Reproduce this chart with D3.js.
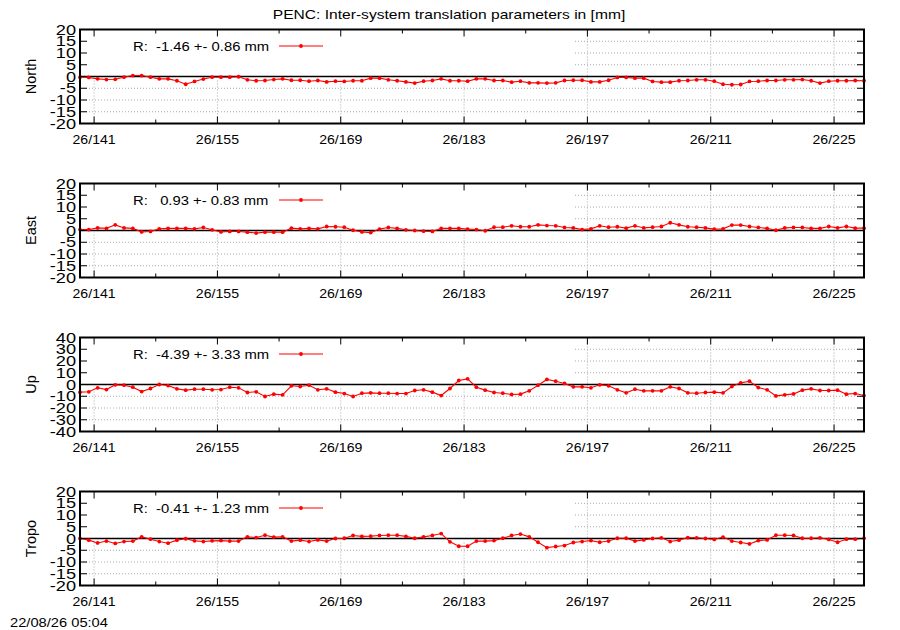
<!DOCTYPE html>
<html>
<head>
<meta charset="utf-8">
<script src="https://cdn.jsdelivr.net/npm/d3@7"></script>
<style>
  body { margin: 0; background: #fff; }
  svg { display: block; font-family: "Liberation Sans", Arial, sans-serif; }
  text { white-space: pre; fill: #000; }
</style>
</head>
<body>
<svg id="chart" width="900" height="630"></svg>
<script>
// day of year (2026), one solution per day
const days = d3.range(139, 229);
const dayOffset = 0.4;

const northValues = [
  -0.3, -0.4, -1.0, -1.3, -1.2, -0.3, 0.4, 0.4, -0.3, -1.0,
  -1.0, -1.8, -3.3, -2.1, -1.1, -0.3, -0.3, -0.3, -0.1, -1.4,
  -1.8, -1.7, -1.3, -1.0, -1.6, -1.6, -2.0, -1.7, -2.3, -2.0,
  -2.1, -1.8, -1.8, -0.7, -0.7, -1.4, -1.8, -2.3, -2.8, -2.0,
  -1.7, -1.0, -1.8, -1.8, -2.0, -1.0, -1.0, -1.7, -1.7, -2.4,
  -2.0, -2.7, -2.7, -2.8, -2.7, -1.7, -1.6, -1.6, -2.3, -2.3,
  -1.6, -0.4, -0.4, -0.7, -0.7, -2.1, -2.4, -2.4, -1.8, -1.7,
  -1.4, -1.4, -2.0, -3.3, -3.5, -3.4, -2.1, -2.0, -1.7, -1.7,
  -1.4, -1.4, -1.3, -1.8, -2.8, -2.0, -1.8, -1.8, -1.7, -1.8,
];

const eastValues = [
  0.4, 0.4, 1.1, 0.9, 2.4, 1.1, 0.9, -0.6, -0.4, 0.7,
  0.9, 0.9, 0.9, 0.7, 1.3, 0.3, -0.6, -0.4, -0.4, -0.7,
  -1.1, -0.7, -0.7, -0.7, 1.0, 0.7, 0.9, 0.7, 1.7, 1.6,
  1.4, 0.1, -0.6, -0.9, 0.6, 1.3, 0.9, 0.3, 0.0, -0.3,
  -0.4, 0.9, 0.9, 0.9, 0.6, 0.4, -0.1, 1.4, 1.4, 2.0,
  1.6, 1.6, 2.4, 2.1, 2.0, 1.3, 1.1, 0.4, 0.7, 2.0,
  1.4, 1.6, 1.0, 2.0, 1.1, 1.4, 1.7, 3.3, 2.4, 1.6,
  1.4, 1.1, 0.6, 0.7, 2.3, 2.3, 1.7, 1.3, 0.9, 0.1,
  1.1, 1.3, 1.3, 0.9, 0.9, 1.7, 1.1, 1.7, 1.0, 1.0,
];

const upValues = [
  -6.5, -6.2, -2.8, -4.3, -0.3, -0.6, -2.3, -6.0, -3.4, 0.0,
  -0.9, -3.7, -4.8, -4.0, -4.0, -4.5, -4.3, -2.3, -2.8, -6.8,
  -6.2, -10.2, -8.2, -8.8, -1.1, -1.7, -0.6, -4.5, -3.7, -6.5,
  -7.7, -10.2, -7.4, -7.1, -7.4, -7.4, -7.7, -7.7, -5.1, -4.5,
  -6.5, -9.4, -3.4, 3.4, 4.8, -2.3, -4.8, -6.8, -7.4, -8.5,
  -8.2, -5.4, -0.6, 4.3, 2.8, 0.9, -2.0, -2.0, -2.8, -0.3,
  -1.1, -4.5, -7.1, -4.0, -5.4, -5.4, -5.4, -2.0, -3.4, -7.1,
  -7.4, -6.8, -6.5, -7.1, -1.7, 1.4, 2.8, -2.6, -4.5, -9.7,
  -8.8, -8.0, -4.8, -3.7, -5.1, -5.1, -4.8, -8.2, -7.7, -9.4,
];

const tropoValues = [
  0.0, -0.7, -1.9, -1.1, -2.1, -1.3, -1.1, 0.7, -0.3, -1.3,
  -2.0, -0.7, -0.1, -1.0, -1.3, -1.0, -0.9, -1.1, -1.1, 0.7,
  0.4, 1.4, 0.6, 0.7, -1.1, -0.7, -1.3, -0.6, -1.1, 0.0,
  0.1, 1.3, 0.9, 1.0, 1.3, 1.4, 1.4, 0.9, 0.1, 0.7,
  1.3, 2.1, -1.4, -3.3, -3.3, -1.1, -1.1, -0.9, 0.1, 1.3,
  1.9, 0.7, -1.6, -3.9, -3.4, -3.0, -1.7, -1.3, -0.9, -1.6,
  -1.1, 0.1, 0.1, -1.1, -0.6, 0.0, 0.3, -1.3, -0.7, 0.4,
  0.3, 0.0, -0.4, 0.6, -1.1, -1.7, -2.3, -0.9, -0.6, 1.4,
  1.4, 1.3, 0.1, 0.1, 0.3, -0.4, -1.6, -0.3, -0.3, 0.1,
];

const panelNames = ["North", "East", "Up", "Tropo"];
const panelSeries = [northValues, eastValues, upValues, tropoValues];
const panelLimits = [20, 20, 40, 20];
const panelSteps = [5, 5, 10, 5];
const legendLabels = [
  "R:  -1.46 +- 0.86 mm",
  "R:   0.93 +- 0.83 mm",
  "R:  -4.39 +- 3.33 mm",
  "R:  -0.41 +- 1.23 mm",
];
const majorDays = d3.range(141, 229, 14);
const minorDays = d3.range(148, 229, 14);
const yearLabel = "26";
const chartTitle = "PENC: Inter-system translation parameters in [mm]";
const stamp = "22/08/26 05:04";

const left = 80, right = 864, plotH = 94;
const gridColor = "#a8a8a8";
const red = "#ff0000";

const svg = d3.select("#chart");

const x = d3.scaleLinear()
  .domain([days[0] + dayOffset, days[days.length - 1] + dayOffset])
  .range([left, right]);

// the reference font is drawn wider than Liberation Sans, so stretch it
function wideText(parent, tx, ty, str, size, sx, anchor) {
  return parent.append("text")
    .attr("transform", `translate(${tx},${ty}) scale(${sx},1)`)
    .attr("text-anchor", anchor)
    .style("font-size", size + "px")
    .text(str);
}

wideText(svg, 449, 19, chartTitle, 13, 1.2, "middle");

panelNames.forEach((name, i) => {
  const top = 29.5 + i * 154;
  const bottom = top + plotH;
  const lim = panelLimits[i];
  const y = d3.scaleLinear().domain([-lim, lim]).range([bottom, top]);
  const yTicks = d3.range(-lim, lim + 0.1, panelSteps[i]);
  const g = svg.append("g");

  // grid
  g.selectAll(".hgrid")
    .data(yTicks.filter((v) => v !== 0 && Math.abs(v) !== lim))
    .enter()
    .append("line")
    .attr("x1", left).attr("x2", right)
    .attr("y1", (d) => y(d)).attr("y2", (d) => y(d))
    .attr("stroke", gridColor)
    .attr("stroke-dasharray", "1,2");

  g.selectAll(".vgrid")
    .data(majorDays)
    .enter()
    .append("line")
    .attr("x1", (d) => x(d)).attr("x2", (d) => x(d))
    .attr("y1", top).attr("y2", bottom)
    .attr("stroke", gridColor)
    .attr("stroke-dasharray", "1,2");

  // opaque key box
  g.append("rect")
    .attr("x", left).attr("y", top)
    .attr("width", 573 - left).attr("height", 49)
    .attr("fill", "#fff");

  // zero axis
  g.append("line")
    .attr("x1", left).attr("x2", right)
    .attr("y1", y(0)).attr("y2", y(0))
    .attr("stroke", "#000")
    .attr("stroke-width", 1.5);

  // series
  const values = panelSeries[i];
  const line = d3.line()
    .x((d, k) => x(days[k] + dayOffset))
    .y((d) => y(d));

  g.append("path")
    .datum(values)
    .attr("d", line)
    .attr("fill", "none")
    .attr("stroke", red)
    .attr("stroke-width", 1.1);

  g.selectAll(".pt")
    .data(values)
    .enter()
    .append("circle")
    .attr("cx", (d, k) => x(days[k] + dayOffset))
    .attr("cy", (d) => y(d))
    .attr("r", 1.9)
    .attr("fill", red);

  // border
  g.append("rect")
    .attr("x", left).attr("y", top)
    .attr("width", right - left).attr("height", plotH)
    .attr("fill", "none")
    .attr("stroke", "#000")
    .attr("stroke-width", 2);

  // ticks, mirrored
  yTicks.forEach((v) => {
    g.append("line").attr("x1", left).attr("x2", left + 7)
      .attr("y1", y(v)).attr("y2", y(v)).attr("stroke", "#000");
    g.append("line").attr("x1", right - 7).attr("x2", right)
      .attr("y1", y(v)).attr("y2", y(v)).attr("stroke", "#000");
  });
  majorDays.forEach((d) => {
    g.append("line").attr("x1", x(d)).attr("x2", x(d))
      .attr("y1", top).attr("y2", top + 7).attr("stroke", "#000");
    g.append("line").attr("x1", x(d)).attr("x2", x(d))
      .attr("y1", bottom - 7).attr("y2", bottom).attr("stroke", "#000");
  });
  minorDays.forEach((d) => {
    g.append("line").attr("x1", x(d)).attr("x2", x(d))
      .attr("y1", top).attr("y2", top + 4).attr("stroke", "#000");
    g.append("line").attr("x1", x(d)).attr("x2", x(d))
      .attr("y1", bottom - 4).attr("y2", bottom).attr("stroke", "#000");
  });

  // tick labels
  yTicks.forEach((v) => wideText(g, 76, y(v) + 5, String(v), 14, 1.3, "end"));
  majorDays.forEach((d) =>
    wideText(g, x(d), bottom + 20, yearLabel + "/" + d, 12.5, 1.13, "middle")
  );

  // axis title
  g.append("text")
    .attr("transform", `translate(36,${(top + bottom) / 2}) rotate(-90)`)
    .attr("text-anchor", "middle")
    .style("font-size", "14.5px")
    .text(name);

  // legend
  wideText(g, 133, top + 21, legendLabels[i], 13, 1.14, "start");
  g.append("line")
    .attr("x1", 279).attr("x2", 323)
    .attr("y1", top + 16.5).attr("y2", top + 16.5)
    .attr("stroke", red)
    .attr("stroke-width", 1.1);
  g.append("circle")
    .attr("cx", 301).attr("cy", top + 16.5)
    .attr("r", 1.9)
    .attr("fill", red);
});

wideText(svg, 10, 627, stamp, 13, 1.13, "start");
</script>
</body>
</html>
